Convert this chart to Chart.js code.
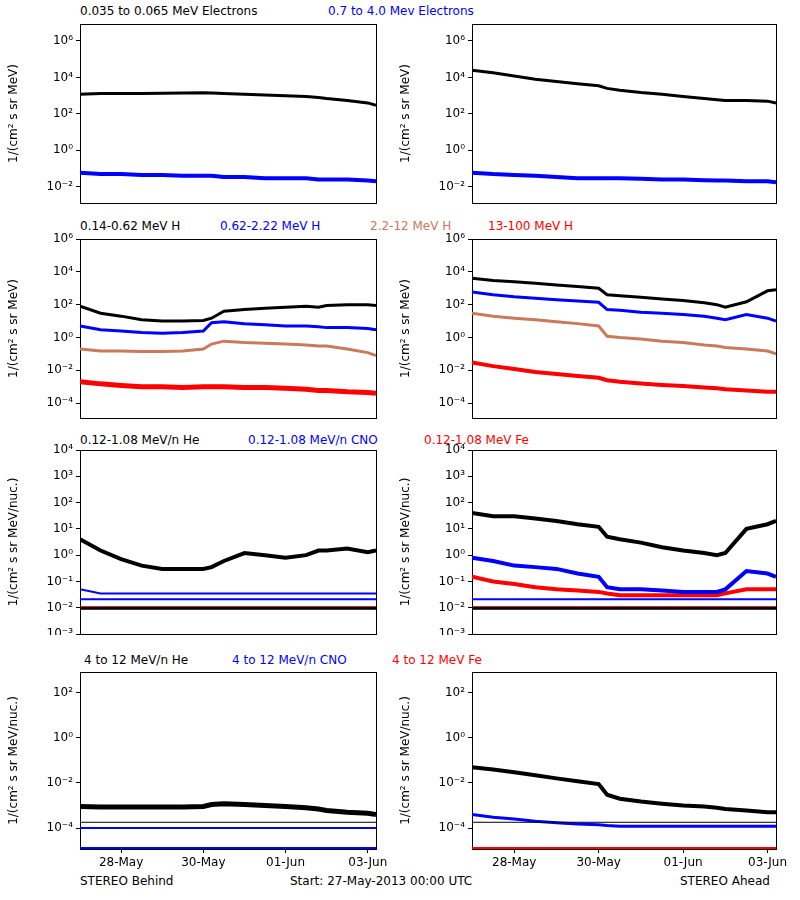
<!DOCTYPE html>
<html>
<head>
<meta charset="utf-8">
<script src="https://cdn.jsdelivr.net/npm/chart.js@4/dist/chart.umd.min.js"></script>
<style>
  body { margin: 0; background: #fff; font-family: "DejaVu Sans", sans-serif; }
  #page { position: relative; width: 800px; height: 900px; }
  .box { position: absolute; }
  .lbl { position: absolute; font-size: 12px; white-space: nowrap; }
</style>
</head>
<body>
<div id="page">
  <div class="lbl" style="left:80px;top:4px">0.035 to 0.065 MeV Electrons</div>
  <div class="lbl" style="left:328px;top:4px;color:#0000ff">0.7 to 4.0 Mev Electrons</div>

  <div class="lbl" style="left:80px;top:219px">0.14-0.62 MeV H</div>
  <div class="lbl" style="left:220px;top:219px;color:#0000ff">0.62-2.22 MeV H</div>
  <div class="lbl" style="left:370px;top:219px;color:#c87a5a">2.2-12 MeV H</div>
  <div class="lbl" style="left:488px;top:219px;color:#ff0000">13-100 MeV H</div>

  <div class="lbl" style="left:80px;top:433px">0.12-1.08 MeV/n He</div>
  <div class="lbl" style="left:248px;top:433px;color:#0000ff">0.12-1.08 MeV/n CNO</div>
  <div class="lbl" style="left:424px;top:433px;color:#ff0000">0.12-1.08 MeV Fe</div>

  <div class="lbl" style="left:84px;top:653px">4 to 12 MeV/n He</div>
  <div class="lbl" style="left:232px;top:653px;color:#0000ff">4 to 12 MeV/n CNO</div>
  <div class="lbl" style="left:392px;top:653px;color:#ff0000">4 to 12 MeV Fe</div>

  <div class="lbl" style="left:80px;top:874px">STEREO Behind</div>
  <div class="lbl" style="left:290px;top:874px">Start: 27-May-2013 00:00 UTC</div>
  <div class="lbl" style="left:680px;top:874px">STEREO Ahead</div>
</div>
<script>
// Time axis: days since 27-May-2013 00:00 UTC
const DAYS = [0, 0.5, 1, 1.5, 2, 2.5, 3, 3.2, 3.5, 4, 4.5, 5, 5.5, 5.8, 6, 6.5, 7, 7.2];
const EDGE_DAYS = [0, 7.2];
const X_TICKS = [1, 3, 5, 7];
const X_LABELS = ["28-May", "30-May", "01-Jun", "03-Jun"];

// Row 1: electrons
const elecLowBehind = [1.2e3,1.3e3,1.3e3,1.3e3,1.35e3,1.4e3,1.45e3,1.4e3,1.3e3,1.2e3,1.1e3,1e3,9e2,8e2,7e2,5.5e2,4e2,3e2];
const elecHighBehind = [6e-2,5e-2,5e-2,4.5e-2,4.5e-2,4e-2,4e-2,4e-2,3.5e-2,3.5e-2,3e-2,3e-2,3e-2,2.5e-2,2.5e-2,2.5e-2,2.2e-2,2e-2];
const elecLowAhead = [2.5e4,1.8e4,1.2e4,8e3,6e3,4.5e3,3.5e3,2.5e3,2e3,1.5e3,1.2e3,9e2,7e2,6e2,5.5e2,5.5e2,5e2,4e2];
const elecHighAhead = [6e-2,5e-2,4.5e-2,4e-2,3.5e-2,3e-2,3e-2,3e-2,3e-2,2.8e-2,2.5e-2,2.5e-2,2.3e-2,2.2e-2,2.2e-2,2e-2,2e-2,1.8e-2];

// Row 2: protons
const h1Behind = [80,30,20,12,10,10,11,15,40,50,60,70,80,70,90,100,100,90];
const h2Behind = [5,3,2.5,2,1.8,2,2.5,8,9,7,6,5,5,4.5,4,4,3.5,3];
const h3Behind = [0.2,0.15,0.15,0.14,0.14,0.15,0.2,0.4,0.6,0.5,0.45,0.4,0.35,0.3,0.3,0.2,0.12,0.08];
const h4Behind = [2e-3,1.5e-3,1.2e-3,1e-3,1e-3,9e-4,1e-3,1e-3,1e-3,9e-4,9e-4,8e-4,7e-4,6e-4,6e-4,5e-4,4.5e-4,4e-4];
const h1Ahead = [4e3,3e3,2.5e3,2e3,1.6e3,1.3e3,1e3,4e2,3.5e2,2.8e2,2.2e2,1.8e2,1.3e2,1e2,70,1.5e2,7e2,8e2];
const h2Ahead = [6e2,4e2,3e2,2.5e2,2e2,1.7e2,1.4e2,50,45,35,30,25,20,15,12,25,15,10];
const h3Ahead = [30,20,15,12,9,7,5,1.2,1,0.8,0.6,0.5,0.35,0.3,0.25,0.2,0.15,0.1];
const h4Ahead = [3e-2,1.8e-2,1.2e-2,8e-3,6e-3,4.5e-3,3.5e-3,2.5e-3,2e-3,1.6e-3,1.3e-3,1.1e-3,9e-4,8e-4,7e-4,6e-4,5e-4,5e-4];

// Row 3: low-energy ions
const heLowBehind = [4,1.5,0.7,0.4,0.3,0.3,0.3,0.35,0.6,1.2,1,0.8,1,1.5,1.5,1.8,1.3,1.5];
const cnoLowBehind = [0.05,0.035,0.035,0.035,0.035,0.035,0.035,0.035,0.035,0.035,0.035,0.035,0.035,0.035,0.035,0.035,0.035,0.035];
const heLowAhead = [40,30,30,25,20,15,12,5,4,3,2,1.5,1.2,1,1.2,10,15,20];
const cnoLowAhead = [0.8,0.6,0.4,0.35,0.3,0.2,0.15,0.06,0.05,0.05,0.045,0.04,0.04,0.04,0.05,0.25,0.2,0.15];
const feLowAhead = [0.15,0.1,0.08,0.06,0.05,0.045,0.04,0.035,0.03,0.03,0.03,0.03,0.03,0.03,0.035,0.05,0.05,0.05];
const lowFloorHe = [0.0095, 0.0095];
const lowFloorCno = [0.021, 0.021];
const lowFloorFe = [0.01, 0.01];

// Row 4: high-energy ions
const heHighBehind = [9e-4,8.5e-4,8.5e-4,8.5e-4,8.5e-4,8.5e-4,9e-4,1.1e-3,1.2e-3,1.1e-3,1e-3,9e-4,8e-4,7e-4,6e-4,5e-4,4.5e-4,4e-4];
const heHighAhead = [5e-2,4e-2,3e-2,2.2e-2,1.6e-2,1.2e-2,9e-3,3e-3,2e-3,1.5e-3,1.2e-3,1e-3,9e-4,8e-4,7e-4,6e-4,5e-4,5e-4];
const cnoHighAhead = [4e-4,3e-4,2.5e-4,2e-4,1.7e-4,1.5e-4,1.4e-4,1.3e-4,1.2e-4,1.2e-4,1.2e-4,1.2e-4,1.2e-4,1.2e-4,1.2e-4,1.2e-4,1.2e-4,1.2e-4];
const highFloorHe = [1.8e-4, 1.8e-4];
const highFloorCno = [1e-4, 1e-4];
const highFloorFe = [1.3e-5, 1.3e-5];

const Y_TICKS_A = [1e-2, 1e0, 1e2, 1e4, 1e6];
const Y_TICKS_B = [1e-4, 1e-2, 1e0, 1e2, 1e4, 1e6];
const Y_TICKS_C = [1e-3, 1e-2, 1e-1, 1e0, 1e1, 1e2, 1e3, 1e4];
const Y_TICKS_D = [1e-4, 1e-2, 1e0, 1e2];

const BLACK = "#000000", BLUE = "#0000ff", BROWN = "#c87a5a", RED = "#ff0000";
const SUP = { "-": "⁻", "0": "⁰", "1": "¹", "2": "²", "3": "³", "4": "⁴", "5": "⁵", "6": "⁶", "7": "⁷", "8": "⁸", "9": "⁹" };

function powLabel(v) {
  const e = String(Math.round(Math.log10(v)));
  return "10" + e.split("").map(c => SUP[c]).join("");
}

function series(xs, ys, color, width) {
  return {
    data: xs.map((x, i) => ({ x: x, y: ys[i] })),
    borderColor: color,
    backgroundColor: color,
    borderWidth: width || 3,
    pointRadius: 0,
    tension: 0
  };
}

function panel(left, top, plotW, plotH, yMin, yMax, yTicks, yTitle, showX, datasets) {
  const axisW = 75, padR = 24, padT = 8;
  const xH = showX ? 22 : 1;
  const div = document.createElement("div");
  div.className = "box";
  div.style.left = (left - axisW) + "px";
  div.style.top = (top - padT) + "px";
  div.style.width = (plotW + axisW + padR) + "px";
  div.style.height = (plotH + xH + padT) + "px";
  const canvas = document.createElement("canvas");
  div.appendChild(canvas);
  document.getElementById("page").appendChild(div);

  new Chart(canvas, {
    type: "line",
    data: { datasets: datasets },
    options: {
      responsive: true,
      maintainAspectRatio: false,
      animation: false,
      layout: { padding: { top: padT, right: padR, bottom: 0, left: 0 } },
      plugins: { legend: { display: false }, tooltip: { enabled: false } },
      scales: {
        x: {
          type: "linear", min: 0, max: 7.2,
          afterBuildTicks: s => { s.ticks = X_TICKS.map(v => ({ value: v })); },
          afterFit: s => { s.height = xH; s.paddingLeft = 0; s.paddingRight = 0; },
          border: { color: BLACK },
          grid: { drawOnChartArea: false, color: BLACK, tickLength: showX ? 4 : 0 },
          ticks: {
            display: showX, color: BLACK, maxRotation: 0,
            font: { family: "DejaVu Sans", size: 12 },
            callback: (v) => X_LABELS[X_TICKS.indexOf(v)]
          }
        },
        x2: {
          type: "linear", position: "top", min: 0, max: 7.2,
          border: { color: BLACK }, grid: { display: false }, ticks: { display: false },
          afterFit: s => { s.height = 0; s.paddingLeft = 0; s.paddingRight = 0; }
        },
        y: {
          type: "logarithmic", min: yMin, max: yMax,
          afterBuildTicks: s => { s.ticks = yTicks.map(v => ({ value: v })); },
          afterFit: s => { s.width = axisW; s.paddingTop = 0; s.paddingBottom = 0; },
          border: { color: BLACK },
          grid: { drawOnChartArea: false, color: BLACK, tickLength: 4 },
          ticks: { color: BLACK, font: { family: "DejaVu Sans", size: 12 }, callback: v => powLabel(v) },
          title: { display: true, text: yTitle, color: BLACK, font: { family: "DejaVu Sans", size: 12 }, padding: 2 }
        },
        y2: {
          type: "logarithmic", position: "right", min: yMin, max: yMax,
          border: { color: BLACK }, grid: { display: false }, ticks: { display: false },
          afterFit: s => { s.width = 0; s.paddingTop = 0; s.paddingBottom = 0; }
        }
      }
    }
  });
}

const T1 = "1/(cm² s sr MeV)";
const T2 = "1/(cm² s sr MeV/nuc.)";

// Row 1
panel(80, 24, 296, 179, 1.3e-3, 8.5e6, Y_TICKS_A, T1, false, [
  series(DAYS, elecLowBehind, BLACK), series(DAYS, elecHighBehind, BLUE, 4)]);
panel(472, 24, 304, 179, 1.3e-3, 8.5e6, Y_TICKS_A, T1, false, [
  series(DAYS, elecLowAhead, BLACK), series(DAYS, elecHighAhead, BLUE, 4)]);

// Row 2
panel(80, 239, 296, 179, 1.25e-5, 1e6, Y_TICKS_B, T1, false, [
  series(DAYS, h1Behind, BLACK), series(DAYS, h2Behind, BLUE),
  series(DAYS, h3Behind, BROWN), series(DAYS, h4Behind, RED, 5)]);
panel(472, 239, 304, 179, 1.25e-5, 1e6, Y_TICKS_B, T1, false, [
  series(DAYS, h1Ahead, BLACK), series(DAYS, h2Ahead, BLUE),
  series(DAYS, h3Ahead, BROWN), series(DAYS, h4Ahead, RED, 4)]);

// Row 3 (floors drawn first so the coloured ones stay on top)
panel(80, 450, 296, 184, 1e-3, 1e4, Y_TICKS_C, T2, false, [
  series(EDGE_DAYS, lowFloorHe, BLACK, 3), series(EDGE_DAYS, lowFloorFe, RED, 3),
  series(EDGE_DAYS, lowFloorCno, BLUE, 2),
  series(DAYS, heLowBehind, BLACK, 4), series(DAYS, cnoLowBehind, BLUE, 2)]);
panel(472, 450, 304, 184, 1e-3, 1e4, Y_TICKS_C, T2, false, [
  series(EDGE_DAYS, lowFloorHe, BLACK, 3), series(EDGE_DAYS, lowFloorFe, RED, 3),
  series(EDGE_DAYS, lowFloorCno, BLUE, 2),
  series(DAYS, heLowAhead, BLACK, 4), series(DAYS, cnoLowAhead, BLUE, 4),
  series(DAYS, feLowAhead, RED, 4)]);

// Row 4
panel(80, 672, 296, 177, 1.17e-5, 8.5e2, Y_TICKS_D, T2, true, [
  series(EDGE_DAYS, highFloorHe, BLACK, 1), series(EDGE_DAYS, highFloorCno, BLUE, 2),
  series(EDGE_DAYS, highFloorFe, BLUE, 2),
  series(DAYS, heHighBehind, BLACK, 5)]);
panel(472, 672, 304, 177, 1.17e-5, 8.5e2, Y_TICKS_D, T2, true, [
  series(EDGE_DAYS, highFloorHe, BLACK, 1), series(EDGE_DAYS, highFloorFe, RED, 2),
  series(DAYS, heHighAhead, BLACK, 4), series(DAYS, cnoHighAhead, BLUE, 3)]);
</script>
</body>
</html>
